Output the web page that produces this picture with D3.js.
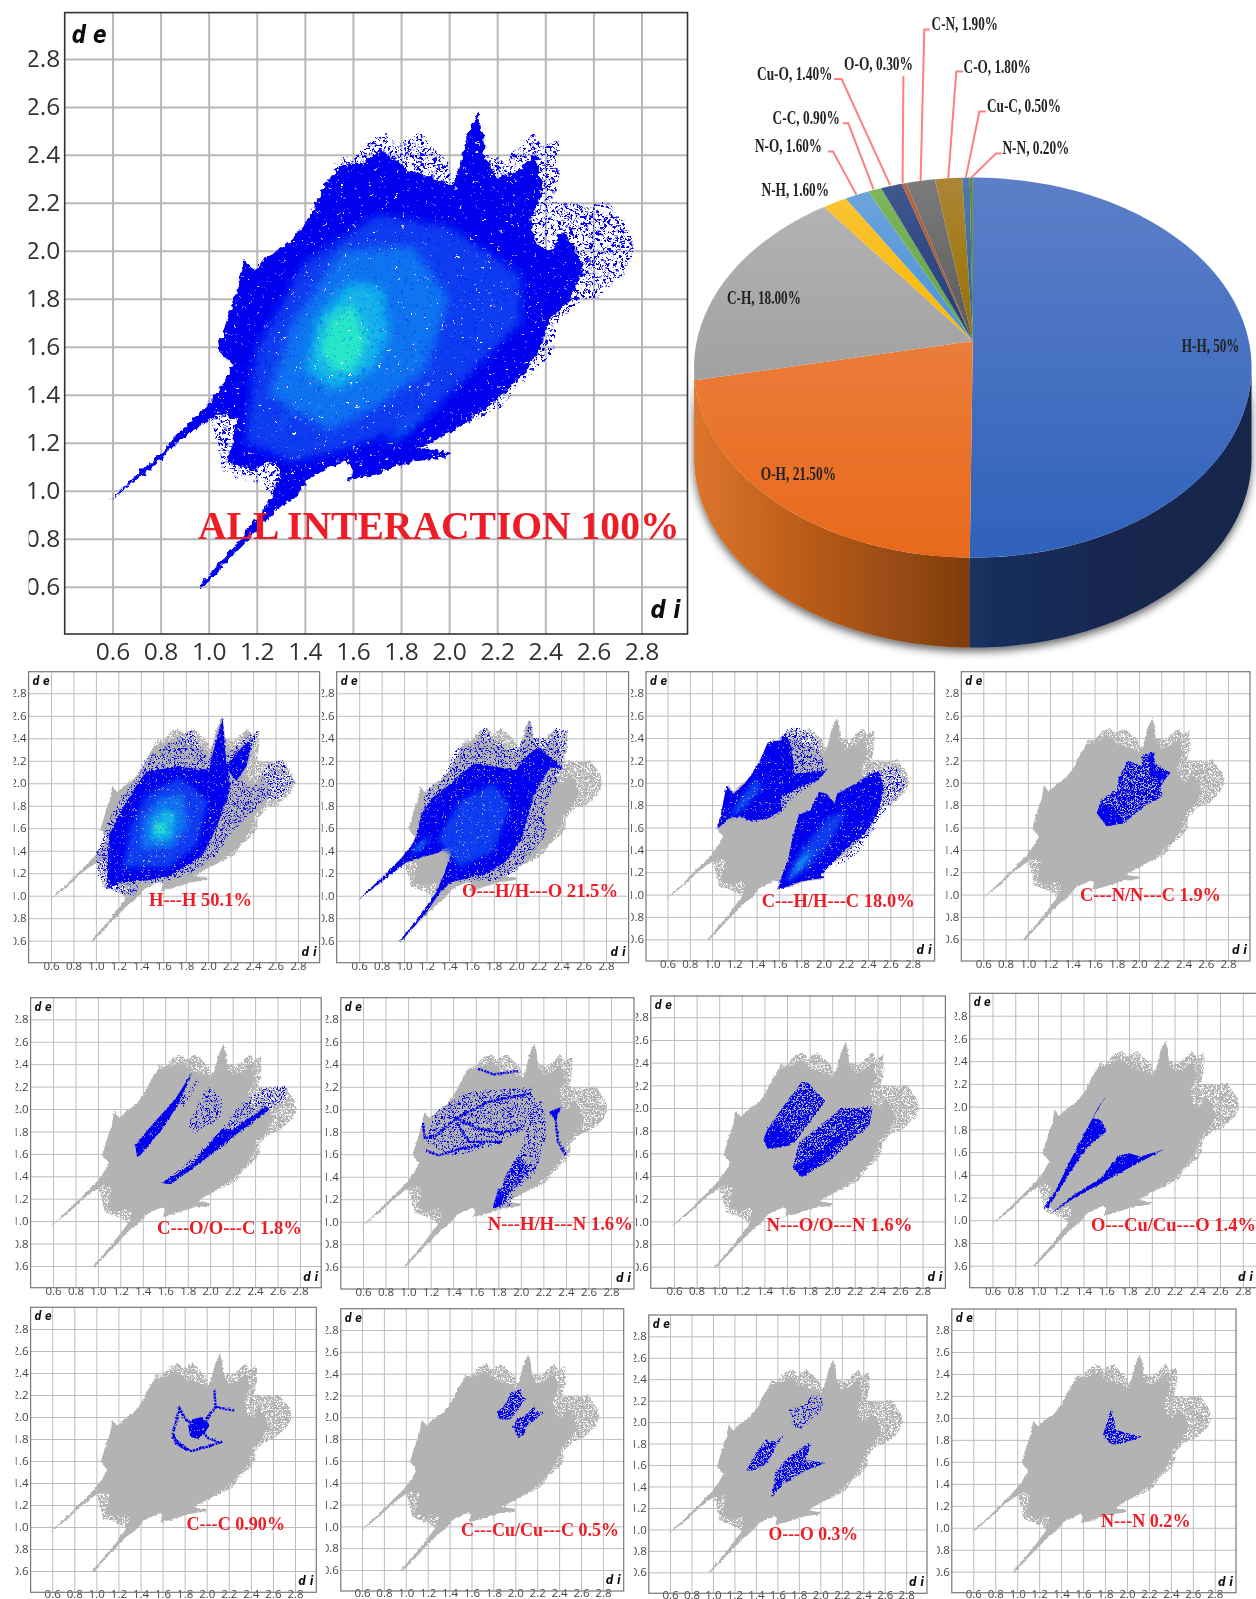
<!DOCTYPE html>
<html><head><meta charset="utf-8">
<script src="https://cdn.jsdelivr.net/npm/d3@7/dist/d3.min.js"></script>
<style>html,body{margin:0;padding:0;background:#fff;overflow:hidden}svg{display:block}</style>
</head><body><svg id="c" width="1256" height="1599"></svg>
<script>
// ---------- shared axis ticks ----------
const tickValues = [0.6,0.8,1.0,1.2,1.4,1.6,1.8,2.0,2.2,2.4,2.6,2.8];

// ---------- full fingerprint outline, [di, de] ----------
const envelope = [[.59,.965],[.75,1.11],[.9,1.26],[.98,1.34],[1.05,1.43],[1.1,1.52],[1.04,1.59],[1.07,1.69],[1.09,1.76],[1.125,1.85],[1.145,1.98],[1.19,1.92],[1.265,1.99],[1.34,2.04],[1.41,2.13],[1.46,2.23],[1.505,2.31],[1.545,2.39],[1.6,2.38],[1.665,2.46],[1.74,2.49],[1.785,2.44],[1.87,2.49],[1.99,2.38],[2.01,2.31],[2.035,2.33],[2.075,2.48],[2.12,2.58],[2.14,2.5],[2.15,2.4],[2.235,2.38],[2.3,2.44],[2.355,2.49],[2.39,2.43],[2.455,2.47],[2.455,2.31],[2.43,2.2],[2.6,2.19],[2.66,2.21],[2.75,2.08],[2.77,2.0],[2.73,1.91],[2.62,1.81],[2.53,1.78],[2.44,1.69],[2.44,1.6],[2.4,1.54],[2.29,1.45],[2.235,1.36],[2.1,1.29],[1.95,1.24],[1.9,1.17],[2.0,1.16],[1.99,1.14],[1.84,1.12],[1.69,1.07],[1.58,1.04],[1.6,1.11],[1.565,1.125],[1.43,1.06],[1.36,.975],[1.285,.92],[1.135,.765],[.97,.59],[.96,.6],[1.12,.785],[1.265,.975],[1.225,1.02],[1.135,1.055],[1.06,1.08],[1.04,1.17],[1.005,1.3],[.875,1.205],[.75,1.085],[.58,.955]];
const core = [[.59,.965],[.75,1.11],[.9,1.26],[.98,1.34],[1.05,1.43],[1.1,1.52],[1.04,1.59],[1.07,1.69],[1.09,1.76],[1.125,1.85],[1.145,1.97],[1.19,1.92],[1.265,1.99],[1.34,2.04],[1.41,2.13],[1.46,2.23],[1.5,2.3],[1.55,2.35],[1.66,2.38],[1.72,2.42],[1.82,2.34],[1.95,2.3],[2.01,2.27],[2.04,2.33],[2.075,2.48],[2.12,2.58],[2.14,2.5],[2.15,2.38],[2.2,2.3],[2.28,2.33],[2.36,2.4],[2.39,2.26],[2.34,2.14],[2.36,2.03],[2.42,2.0],[2.47,2.08],[2.52,2.02],[2.56,1.92],[2.5,1.8],[2.42,1.72],[2.38,1.6],[2.32,1.5],[2.2,1.38],[2.05,1.27],[1.92,1.2],[1.87,1.18],[2.0,1.16],[1.99,1.14],[1.84,1.12],[1.69,1.07],[1.58,1.04],[1.6,1.11],[1.565,1.125],[1.43,1.06],[1.36,.975],[1.285,.92],[1.135,.765],[.97,.59],[.96,.6],[1.12,.785],[1.265,.975],[1.3,1.08],[1.27,1.12],[1.18,1.09],[1.08,1.12],[1.1,1.2],[1.12,1.3],[1.06,1.32],[1.005,1.3],[.875,1.205],[.75,1.085],[.58,.955]];

// ---------- heat layers of the top plot: [level, polygon] ----------
const heatAll = [
 [1,[[1.15,1.2],[1.2,1.6],[1.4,1.95],[1.7,2.15],[2.0,2.1],[2.3,1.9],[2.3,1.7],[2.1,1.5],[1.9,1.3],[1.6,1.18],[1.35,1.12]]],
 [2,[[1.25,1.4],[1.35,1.7],[1.55,2.0],[1.85,2.02],[2.0,1.8],[1.9,1.5],[1.7,1.35],[1.5,1.25]]],
 [3,[[1.4,1.5],[1.45,1.72],[1.58,1.87],[1.72,1.85],[1.75,1.65],[1.68,1.5],[1.52,1.42]]],
 [4,[[1.46,1.58],[1.5,1.72],[1.6,1.78],[1.66,1.62],[1.6,1.5],[1.52,1.5]]],
 [3,[[1.03,1.36],[1.1,1.42],[1.22,1.52],[1.12,1.44]]],
 [2,[[1.25,1.2],[1.34,1.32],[1.44,1.54],[1.36,1.38]]],
 [2,[[1.72,1.18],[1.82,1.24],[1.9,1.33],[1.8,1.27]]]
];

// ---------- blue regions of each small plot: [density, polygon] ----------
const blueHH = [
 ['s',[[1.0,1.35],[1.1,1.64],[1.2,1.85],[1.38,2.06],[1.42,2.2],[1.68,2.38],[1.85,2.47],[2.0,2.2],[2.07,2.41],[2.13,2.58],[2.15,2.24],[2.33,2.41],[2.45,2.47],[2.4,2.32],[2.29,2.06],[2.33,2.0],[2.55,1.97],[2.5,1.85],[2.25,1.61],[2.07,1.35],[1.85,1.2],[1.6,1.11],[1.38,1.11],[1.35,.99],[1.16,1.03],[1.02,1.17]]],
 ['s',[[2.45,2.05],[2.55,2.18],[2.66,2.21],[2.76,2.0],[2.66,1.88],[2.55,1.84]]],
 ['f',[[1.1,1.06],[1.1,1.3],[1.12,1.55],[1.25,1.8],[1.36,1.98],[1.45,2.1],[1.7,2.15],[2.0,2.12],[2.05,2.3],[2.13,2.58],[2.16,2.2],[2.2,1.95],[2.08,1.62],[1.95,1.36],[1.65,1.17],[1.42,1.13],[1.25,1.13]]],
 ['f',[[2.15,2.15],[2.3,2.32],[2.4,2.4],[2.34,2.15],[2.25,2.02]]]
];
const heatHH = [
 [1,[[1.25,1.25],[1.3,1.6],[1.45,1.9],[1.75,2.05],[2.0,1.85],[1.9,1.45],[1.65,1.25]]],
 [2,[[1.4,1.42],[1.42,1.68],[1.58,1.88],[1.78,1.9],[1.82,1.62],[1.68,1.42]]],
 [3,[[1.48,1.5],[1.5,1.68],[1.62,1.78],[1.72,1.72],[1.68,1.52],[1.58,1.48]]],
 [4,[[1.52,1.55],[1.54,1.64],[1.62,1.64],[1.62,1.55]]],
 [3,[[1.12,1.1],[1.25,1.25],[1.44,1.48],[1.3,1.32]]]
];
const blueOH = [
 ['s',[[1.14,1.7],[1.2,1.95],[1.35,2.05],[1.45,2.3],[1.62,2.35],[1.72,2.5],[1.78,2.4],[1.95,2.3],[2.08,2.4],[2.12,2.56],[2.14,2.4],[2.3,2.4],[2.35,2.49],[2.46,2.47],[2.42,2.2],[2.4,2.1],[2.3,1.9],[2.25,1.7],[2.28,1.55],[2.15,1.4],[2.0,1.22],[1.8,1.13],[1.5,1.13],[1.45,1.4],[1.2,1.4],[1.1,1.5]]],
 ['f',[[.59,.965],[.8,1.16],[.98,1.34],[1.07,1.45],[1.12,1.55],[1.15,1.72],[1.25,1.87],[1.42,2.0],[1.62,2.18],[1.8,2.15],[2.0,2.12],[2.1,2.25],[2.2,2.32],[2.42,2.13],[2.3,2.14],[2.16,1.9],[2.1,1.7],[2.05,1.5],[1.9,1.3],[1.75,1.2],[1.55,1.15],[1.42,1.12],[1.32,1.03],[1.2,.85],[.97,.59],[.96,.6],[1.1,.77],[1.28,1.02],[1.36,1.2],[1.45,1.46],[1.3,1.38],[1.04,1.31],[.95,1.24],[.75,1.085],[.58,.955]]]
];
const heatOH = [
 [1,[[1.3,1.5],[1.5,1.85],[1.8,2.0],[1.95,1.8],[1.8,1.4],[1.5,1.25]]],
 [2,[[1.05,1.35],[1.2,1.48],[1.4,1.75],[1.25,1.55]]],
 [3,[[1.06,1.36],[1.14,1.42],[1.22,1.52],[1.13,1.45]]]
];
const blueCH = [
 ['s',[[1.5,2.3],[1.7,2.5],[1.82,2.48],[1.95,2.38],[2.0,2.2],[2.05,2.12],[1.9,1.98],[1.7,1.85],[1.6,1.7],[1.4,1.65],[1.3,1.66],[1.35,2.0]]],
 ['f',[[1.04,1.58],[1.08,1.72],[1.13,1.98],[1.19,1.9],[1.3,2.0],[1.42,2.18],[1.5,2.36],[1.62,2.38],[1.66,2.45],[1.72,2.3],[1.74,2.08],[1.92,2.1],[2.02,2.1],[1.95,2.02],[1.78,1.96],[1.62,1.87],[1.62,1.75],[1.5,1.68],[1.35,1.66],[1.25,1.7],[1.15,1.68]]],
 ['s',[[2.4,2.1],[2.65,2.15],[2.75,2.0],[2.65,1.85],[2.55,1.75],[2.42,1.55],[2.3,1.36],[2.1,1.25],[2.3,1.5]]],
 ['f',[[1.59,1.04],[1.62,1.15],[1.68,1.3],[1.72,1.5],[1.78,1.72],[1.88,1.75],[1.96,1.92],[2.03,1.9],[2.1,1.82],[2.12,1.9],[2.3,2.0],[2.44,2.09],[2.5,2.1],[2.54,1.95],[2.5,1.75],[2.38,1.55],[2.25,1.45],[2.1,1.3],[1.98,1.18],[2.0,1.15],[1.8,1.12]]]
];
const heatCH = [
 [1,[[1.15,1.68],[1.25,1.85],[1.4,2.05],[1.45,1.95],[1.3,1.78]]],
 [2,[[1.16,1.7],[1.28,1.84],[1.38,1.98],[1.3,1.83]]],
 [1,[[1.65,1.1],[1.8,1.4],[2.05,1.7],[2.22,1.75],[2.05,1.45],[1.85,1.22]]],
 [3,[[1.68,1.12],[1.82,1.28],[1.92,1.42],[1.78,1.3]]]
];
const blueCN = [
 ['m',[[1.62,1.73],[1.71,1.61],[1.87,1.64],[2.05,1.79],[2.21,1.88],[2.2,1.98],[2.28,2.09],[2.16,2.16],[2.12,2.27],[2.03,2.25],[2.02,2.15],[1.9,2.2],[1.82,2.05],[1.8,1.94],[1.66,1.85]]],
 ['f',[[2.08,2.24],[2.14,2.27],[2.12,2.12],[2.28,2.09],[2.22,2.03],[2.1,2.05]]],
 ['f',[[1.62,1.73],[1.71,1.61],[1.87,1.64],[1.8,1.74],[1.66,1.82]]]
];
const blueCO = [
 ['f',[[1.35,1.57],[1.33,1.68],[1.51,1.89],[1.69,2.09],[1.84,2.33],[1.72,2.05],[1.58,1.83],[1.38,1.59]]],
 ['s',[[1.73,2.07],[1.91,2.3],[1.9,2.25],[1.76,2.0]]],
 ['s',[[1.8,1.86],[1.85,1.77],[2.09,1.92],[2.11,2.09],[1.98,2.21],[1.87,2.0]]],
 ['s',[[1.57,1.34],[1.8,1.53],[2.09,1.8],[2.27,2.04],[2.45,2.18],[2.67,2.21],[2.67,2.08],[2.53,1.99],[2.02,1.59],[1.65,1.33]]],
 ['f',[[1.57,1.34],[1.65,1.33],[1.95,1.55],[2.2,1.75],[2.53,2.0],[2.5,2.02],[2.2,1.82],[2.1,1.82],[1.85,1.52],[1.7,1.42]]]
];
const blueNH = [
 ['l',[[1.62,2.36],[1.76,2.31],[1.98,2.34]]],
 ['s',[[1.22,1.95],[1.5,2.15],[2.09,2.2],[2.2,1.95],[2.0,1.8],[1.78,1.68],[1.4,1.58],[1.16,1.7]]],
 ['l',[[1.13,1.88],[1.15,1.74],[1.25,1.77],[1.43,1.92],[1.72,2.07],[2.09,2.14]]],
 ['l',[[1.43,1.92],[1.62,1.83],[1.83,1.79],[2.0,1.83]]],
 ['l',[[1.43,1.88],[1.54,1.71],[1.83,1.71]]],
 ['l',[[1.16,1.63],[1.27,1.59],[1.47,1.65],[1.65,1.68]]],
 ['s',[[1.76,1.15],[1.82,1.3],[1.96,1.53],[2.05,1.8],[2.09,2.07],[2.2,2.07],[2.23,1.77],[2.12,1.42],[1.94,1.27],[1.91,1.13]]],
 ['m',[[1.76,1.15],[1.85,1.38],[1.98,1.6],[2.08,1.45],[1.9,1.25],[1.85,1.15]]],
 ['f',[[1.75,1.12],[1.8,1.3],[1.84,1.25],[1.82,1.13]]],
 ['f',[[2.25,1.98],[2.36,2.02],[2.31,1.89]]],
 ['l',[[2.31,1.89],[2.33,1.71],[2.4,1.59]]]
];
const blueNO = [
 ['m',[[1.39,1.72],[1.43,1.64],[1.62,1.67],[1.69,1.72],[1.76,1.82],[1.94,2.06],[1.78,2.23],[1.73,2.23],[1.6,2.06],[1.45,1.85]]],
 ['f',[[1.39,1.72],[1.43,1.64],[1.62,1.67],[1.68,1.72],[1.62,1.79],[1.5,1.85],[1.43,1.82]]],
 ['m',[[1.65,1.48],[1.73,1.39],[1.97,1.53],[2.33,1.85],[2.36,2.01],[2.22,2.0],[2.08,2.0],[1.9,1.85],[1.71,1.7]]],
 ['f',[[1.65,1.48],[1.73,1.39],[1.97,1.58],[2.14,1.82],[2.05,1.75],[1.8,1.55]]]
];
const blueOCu = [
 ['f',[[1.05,1.11],[1.09,1.11],[1.3,1.45],[1.42,1.62],[1.5,1.7],[1.6,1.78],[1.59,1.82],[1.55,1.88],[1.48,1.9],[1.52,1.98],[1.6,2.1],[1.47,1.88],[1.4,1.75],[1.27,1.5],[1.15,1.25]]],
 ['f',[[1.1,1.05],[1.31,1.19],[1.69,1.4],[2.1,1.62],[1.9,1.56],[1.8,1.59],[1.71,1.57],[1.55,1.37],[1.31,1.22]]]
];
const blueCC = [
 ['f',[[1.83,1.93],[1.88,1.98],[1.95,2.0],[2.03,1.93],[1.98,1.85],[1.92,1.8],[1.85,1.82]]],
 ['l',[[1.85,1.95],[1.79,2.0],[1.75,2.09],[1.72,1.94],[1.69,1.85],[1.72,1.76],[1.86,1.69],[2.01,1.73],[2.12,1.77],[2.01,1.81],[1.96,1.87]]],
 ['l',[[2.0,1.95],[2.01,2.0],[2.08,2.09],[2.07,2.24]]],
 ['l',[[2.08,2.09],[2.25,2.06]]],
 ['m',[[1.69,1.85],[1.75,1.72],[1.86,1.69],[1.75,1.78]]]
];
const blueCuC = [
 ['m',[[1.82,2.04],[1.86,1.98],[1.95,1.98],[2.1,2.17],[2.06,2.19],[2.05,2.26],[1.95,2.22],[1.92,2.13]]],
 ['m',[[1.98,1.91],[2.02,1.82],[2.08,1.83],[2.1,1.91],[2.27,2.05],[2.18,2.05],[2.18,2.11],[2.1,2.02],[2.01,1.98]]]
];
const blueOO = [
 ['m',[[1.31,1.55],[1.38,1.55],[1.51,1.62],[1.6,1.8],[1.68,1.89],[1.58,1.82],[1.49,1.83],[1.42,1.74]]],
 ['m',[[1.55,1.3],[1.64,1.41],[1.86,1.55],[2.05,1.62],[1.86,1.65],[1.92,1.8],[1.83,1.77],[1.68,1.65],[1.58,1.52]]],
 ['s',[[1.71,2.13],[1.75,1.96],[1.83,1.94],[2.01,2.11],[2.03,2.22],[1.92,2.27],[1.83,2.14]]]
];
const blueNN = [
 ['m',[[1.78,1.84],[1.86,1.75],[2.01,1.78],[2.14,1.83],[2.01,1.86],[1.9,1.89],[1.86,2.09],[1.81,1.94]]]
];

// ---------- plot frames (layout only) ----------
const frames = [
 {l:28.6,r:319.6,t:671.7,b:962.7,x0:51,x1:298,y1:693.3,y0:940.7,clip:15,blue:blueHH,heat:heatHH,
  label:'H---H 50.1%',lx:149,lw:103,ly:905.7},
 {l:336.7,r:628.6,t:671.7,b:962.7,x0:359.2,x1:606,y1:693.3,y0:940.7,clip:15,blue:blueOH,heat:heatOH,
  label:'O---H/H---O 21.5%',lx:462,lw:156,ly:896.7},
 {l:646,r:934.6,t:671.7,b:961,x0:667.5,x1:912.6,y1:693.3,y0:939.3,clip:15,blue:blueCH,heat:heatCH,
  label:'C---H/H---C 18.0%',lx:761.7,lw:153,ly:906.7},
 {l:961.3,r:1250,t:671.7,b:961,x0:983.3,x1:1228,y1:693.3,y0:939.3,clip:15,blue:blueCN,heat:[],
  label:'C---N/N---C 1.9%',lx:1080,lw:141,ly:901},
 {l:30.6,r:321.2,t:997.7,b:1287.7,x0:53,x1:300,y1:1019.3,y0:1266,clip:15,blue:blueCO,heat:[],
  label:'C---O/O---C 1.8%',lx:157,lw:145,ly:1233.7},
 {l:340.8,r:634,t:997.7,b:1289,x0:363,x1:611,y1:1019.3,y0:1266.7,clip:15,blue:blueNH,heat:[],
  label:'N---H/H---N 1.6%',lx:487.8,lw:145,ly:1230.3},
 {l:650.8,r:945.4,t:996,b:1288.3,x0:674,x1:922.6,y1:1017.3,y0:1266.7,clip:15,blue:blueNO,heat:[],
  label:'N---O/O---N 1.6%',lx:766.5,lw:146,ly:1231},
 {l:969.7,r:1262,t:993.3,b:1287.7,x0:992.5,x1:1242.8,y1:1015.7,y0:1265.7,clip:15,blue:blueOCu,heat:[],
  label:'O---Cu/Cu---O 1.4%',lx:1091,lw:165,ly:1231},
 {l:30.6,r:316.3,t:1307.3,b:1592.3,x0:52.2,x1:295,y1:1329,y0:1571,clip:15,blue:blueCC,heat:[],
  label:'C---C 0.90%',lx:186.5,lw:98.5,ly:1530},
 {l:340.8,r:623.7,t:1308.7,b:1591,x0:362,x1:602.9,y1:1330,y0:1570,clip:15,blue:blueCuC,heat:[],
  label:'C---Cu/Cu---C 0.5%',lx:461,lw:158,ly:1535.7},
 {l:648.8,r:927,t:1315,b:1593.3,x0:670,x1:906.2,y1:1336.3,y0:1572.3,clip:15,blue:blueOO,heat:[],
  label:'O---O 0.3%',lx:768.5,lw:89.5,ly:1540.3},
 {l:951.8,r:1236,t:1309,b:1592.7,x0:973.3,x1:1214.8,y1:1330,y0:1571.7,clip:15,blue:blueNN,heat:[],
  label:'N---N 0.2%',lx:1101,lw:89.5,ly:1526.7}
];
const topFrame = {l:64.7,r:687.5,t:12.6,b:634,x0:112.5,x1:641.5,y1:58.9,y0:586.7,clip:36,blue:[],heat:heatAll,
  label:'ALL INTERACTION 100%',lx:198,lw:481.5,ly:539};

// ---------- pie data ----------
const pieNames  = ['H-H','O-H','C-H','N-H','N-O','C-C','Cu-O','O-O','C-N','C-O','Cu-C','N-N'];
const pieValues = [50,21.5,18,1.6,1.6,0.9,1.4,0.3,1.9,1.8,0.5,0.2];
const pieLabels = ['H-H, 50%','O-H, 21.50%','C-H, 18.00%','N-H, 1.60%','N-O, 1.60%','C-C, 0.90%','Cu-O, 1.40%','O-O, 0.30%','C-N, 1.90%','C-O, 1.80%','Cu-C, 0.50%','N-N, 0.20%'];
const pieTopStops = [['#5d7fc8','#2f62bb'],['#ee8b52','#e8691b'],['#b6b6b6','#8e8e8e'],['#fbc53a','#f7b800'],['#6fa5dd','#4b92d6'],['#80b65f','#64a33e'],['#42588f','#1f3c7a'],['#b8673f','#a84f20'],['#7c7c7c','#595959'],['#ad8536','#967000'],['#5479aa','#2a6198'],['#5f8a3a','#3f7a20']];
// label box [x start, width, baseline], leader polyline in page pixels
const pieLabelBoxes = [[1181.8,57.7,351.9],[760.8,75.2,480],[727,74,303.9],[761.6,67.4,195.7],[755,67,151.5],[772.6,67.2,124],[757,75.5,80],[844,69,70],[931.6,66.4,30.3],[963.6,67.2,72.8],[987,74,112],[1002.5,66.9,153.6]];
const leaders = [
 [[828,151.5],[833,151.5],[856.3,194.4]],
 [[842.7,123.3],[848.3,123.3],[873.6,189.4]],
 [[834.3,79.1],[841.6,79.1],[890.1,185.2]],
 [[903.4,75.8],[902.6,183.1]],
 [[929.8,29.5],[924.3,29.5],[920.6,181]],
 [[962.9,71.5],[956.3,71.5],[948.2,178.9]],
 [[985.7,111.5],[979.4,111.5],[965.8,177.6]],
 [[1001.4,153.6],[996,153.6],[971.3,177.6]]
];

// ---------- drawing ----------
const svg = d3.select('#c');
const defs = svg.append('defs');
const root = svg.append('g').attr('filter','url(#soft)');
root.append('rect').attr('width',1256).attr('height',1599).attr('fill','#fff');

function addNoise(id, freq, k, b, blur){
  const f = defs.append('filter').attr('id',id).attr('x','-10%').attr('y','-10%').attr('width','120%').attr('height','120%')
    .attr('color-interpolation-filters','sRGB');
  f.append('feTurbulence').attr('type','fractalNoise').attr('baseFrequency',freq).attr('numOctaves',1).attr('seed',7).attr('result','n');
  f.append('feColorMatrix').attr('in','n').attr('type','matrix')
    .attr('values',`0 0 0 0 0  0 0 0 0 0  0 0 0 0 0  ${k} 0 0 0 ${b}`).attr('result','a');
  let src='SourceGraphic';
  if(blur){ f.append('feGaussianBlur').attr('in','SourceGraphic').attr('stdDeviation',blur).attr('result','bl'); src='bl'; }
  f.append('feComposite').attr('in',src).attr('in2','a').attr('operator','in');
}
function addRough(id,freq,scale){
  const f = defs.append('filter').attr('id',id).attr('x','-8%').attr('y','-8%').attr('width','116%').attr('height','116%')
    .attr('color-interpolation-filters','sRGB');
  f.append('feTurbulence').attr('type','fractalNoise').attr('baseFrequency',freq).attr('numOctaves',2).attr('seed',3).attr('result','n');
  f.append('feDisplacementMap').attr('in','SourceGraphic').attr('in2','n').attr('scale',scale).attr('xChannelSelector','R').attr('yChannelSelector','G');
}
addNoise('sparseFine',.85,14,-7.6);
addNoise('midFine',.85,14,-5.9);
addNoise('denseFine',.85,14,-3.9);
addNoise('grayStipple',.85,14,-5.7);
addNoise('sparseCoarse',.42,14,-7.4);
addNoise('denseCoarse',.42,14,-3.4);
addNoise('heatFine',.85,8,-2.2,2.5);
addNoise('heatCoarse',.42,8,-2.0,5);
addRough('roughFine',.35,3);
addRough('roughCoarse',.18,8);
defs.append('filter').attr('id','soft').attr('x',0).attr('y',0).attr('width',1).attr('height',1)
  .append('feGaussianBlur').attr('stdDeviation',.45);
const sh = defs.append('filter').attr('id','pieShadow').attr('x','-5%').attr('y','-5%').attr('width','110%').attr('height','112%');
sh.append('feDropShadow').attr('dx',0).attr('dy',4).attr('stdDeviation',4).attr('flood-color','#000').attr('flood-opacity',.6);

const heatColors = {1:'#0a3cf0',2:'#0b74f0',3:'#12b4ea',4:'#28e8c8'};
const BLUE='#0000ee', GRAY='#b3b3b3';

function drawPlot(p,i,big){
  const g = root.append('g');
  const x = d3.scaleLinear().domain([.6,2.8]).range([p.x0,p.x1]);
  const y = d3.scaleLinear().domain([.6,2.8]).range([p.y0,p.y1]);
  const line = d3.line().x(d=>x(d[0])).y(d=>y(d[1]));
  const fs = big?24.5:11.5;
  const gridW = big?2:1;
  const gridCol = big?'#b8b8b8':'#bdbdbd';
  defs.append('clipPath').attr('id','cp'+i).append('rect')
    .attr('x',p.l-p.clip).attr('y',p.t-12).attr('width',p.r-p.l+p.clip+2).attr('height',p.b-p.t+40);

  const wrap = g.append('g').attr('clip-path',`url(#cp${i})`);
  const ya = wrap.append('g').attr('transform',`translate(${p.l},0)`)
    .call(d3.axisLeft(y).tickValues(tickValues).tickFormat(d3.format('.1f')).tickSize(-(p.r-p.l)).tickPadding(big?4.5:2));
  const xa = g.append('g').attr('transform',`translate(0,${p.b})`)
    .call(d3.axisBottom(x).tickValues(tickValues).tickFormat(d3.format('.1f')).tickSize(-(p.b-p.t)).tickPadding(0));
  [ya,xa].forEach(a=>{
    a.select('.domain').remove();
    a.selectAll('line').attr('stroke',gridCol).attr('stroke-width',gridW);
    a.selectAll('text').attr('font-family','"Open Sans"').attr('font-size',fs).attr('fill',big?'#333':'#444');
  });
  xa.selectAll('text').attr('y',0).attr('dy',big?'1.05em':(p.b>1585?'.5em':'.62em'));

  g.append('rect').attr('x',p.l).attr('y',p.t).attr('width',p.r-p.l).attr('height',p.b-p.t)
    .attr('fill','none').attr('stroke',big?'#333':'#777').attr('stroke-width',big?1.6:1.2);

  const polys = g.append('g').attr('filter',big?'url(#roughCoarse)':'url(#roughFine)');
  const base = big?BLUE:GRAY;
  polys.append('path').attr('d',line(envelope)+'Z').attr('fill',base).attr('filter',big?'url(#sparseCoarse)':'url(#grayStipple)');
  const c = polys.append('path').attr('d',line(core)+'Z').attr('fill',base);
  if(big) c.attr('filter','url(#denseCoarse)');

  (p.blue||[]).forEach(([kind,pts])=>{
    if(kind==='l'){
      polys.append('path').attr('d',line(pts)).attr('fill','none').attr('stroke',BLUE).attr('stroke-width',2.4).attr('stroke-dasharray','2.5 .8');
    } else {
      const el = polys.append('path').attr('d',line(pts)+'Z').attr('fill',BLUE);
      if(kind==='s') el.attr('filter','url(#sparseFine)');
      if(kind==='m') el.attr('filter','url(#midFine)');
      if(kind==='f') el.attr('filter','url(#denseFine)');
    }
  });
  (p.heat||[]).forEach(([lev,pts])=>{
    polys.append('path').attr('d',line(pts)+'Z').attr('fill',heatColors[lev])
      .attr('filter',big?'url(#heatCoarse)':'url(#heatFine)');
  });

  const axisFont='"DejaVu Sans"';
  const tl = big?35:17;
  g.append('text').text('d e').attr('x',p.l+(big?7:4)).attr('y',p.t+(big?30:13))
    .attr('textLength',tl).attr('lengthAdjust','spacingAndGlyphs')
    .attr('font-family',axisFont).attr('font-weight','bold').attr('font-style','italic').attr('font-size',big?25:11.5).attr('fill','#111');
  g.append('text').text('d i').attr('x',p.r-(big?37:18)-(p.r>1256?6:0)).attr('y',p.b-(big?16:7))
    .attr('textLength',big?30:15).attr('lengthAdjust','spacingAndGlyphs')
    .attr('font-family',axisFont).attr('font-weight','bold').attr('font-style','italic').attr('font-size',big?25:11.5).attr('fill','#111');
  g.append('text').text(p.label).attr('x',p.lx).attr('y',p.ly)
    .attr('textLength',p.lw).attr('lengthAdjust','spacingAndGlyphs')
    .attr('font-family','"Liberation Serif"').attr('font-weight','bold').attr('font-size',big?39:18).attr('fill','#ee1c25');
}
drawPlot(topFrame,'top',true);
frames.forEach((p,i)=>drawPlot(p,i,false));

// ---------- pie in perspective ----------
const pieG = root.append('g');
const cx=972.8, apexY=341, A=276, B=186.3, K=.14, H=90;
const px=a=>cx+A*Math.sin(a)/(1+K*Math.cos(a));
const py=a=>apexY-B*Math.cos(a)/(1+K*Math.cos(a));
const pieArcs = d3.pie().sort(null).startAngle(0).endAngle(2*Math.PI)(pieValues);
const steps = (a0,a1)=>{const n=Math.max(2,Math.ceil(Math.abs(a1-a0)/.02));return d3.range(n+1).map(i=>a0+(a1-a0)*i/n);};
const allA = d3.range(0,2*Math.PI,.005);
const aRight = d3.greatest(allA,a=>px(a)), aLeft = d3.least(allA,a=>px(a));
const pl = d3.line().x(d=>d[0]).y(d=>d[1]);
function wall(a0,a1,id,stops,x0,x1){
  const gr=defs.append('linearGradient').attr('id',id).attr('gradientUnits','userSpaceOnUse').attr('x1',x0).attr('x2',x1).attr('y1',0).attr('y2',0);
  stops.forEach((c,i)=>gr.append('stop').attr('offset',i/(stops.length-1)).attr('stop-color',c));
  const as=steps(a0,a1);
  const pts=as.map(a=>[px(a),py(a)]).concat(as.slice().reverse().map(a=>[px(a),py(a)+H]));
  return pl(pts)+'Z';
}
const sep = pieArcs[0].endAngle;
const wallG = pieG.append('g').attr('filter','url(#pieShadow)');
wallG.append('path').attr('d',wall(sep,aLeft,'wallO',['#7f3c0e','#a04f14','#c0601b','#dd762e'],968,694)).attr('fill','url(#wallO)');
wallG.append('path').attr('d',wall(aRight,sep,'wallB',['#13264c','#14274f','#1a3160'],1252,968)).attr('fill','url(#wallB)');

pieArcs.forEach((d,i)=>{
  const id='sl'+i;
  const gr=defs.append('linearGradient').attr('id',id).attr('gradientUnits','userSpaceOnUse').attr('x1',0).attr('x2',0).attr('y1',177).attr('y2',i<3?558:341);
  gr.append('stop').attr('offset',0).attr('stop-color',pieTopStops[i][0]);
  gr.append('stop').attr('offset',1).attr('stop-color',pieTopStops[i][1]);
  const pts=[[cx,apexY]].concat(steps(d.startAngle,d.endAngle).map(a=>[px(a),py(a)]));
  pieG.append('path').attr('d',pl(pts)+'Z').attr('fill',`url(#${id})`);
});
leaders.forEach(l=>pieG.append('path').attr('d',pl(l)).attr('fill','none').attr('stroke','#ff7f7f').attr('stroke-width',2));
pieLabels.forEach((t,i)=>{
  const b=pieLabelBoxes[i];
  pieG.append('text').text(t).attr('x',b[0]).attr('y',b[2]).attr('textLength',b[1]).attr('lengthAdjust','spacingAndGlyphs')
    .attr('font-family','"Liberation Serif"').attr('font-weight','bold').attr('font-size',18).attr('fill','#222');
});
</script></body></html>
